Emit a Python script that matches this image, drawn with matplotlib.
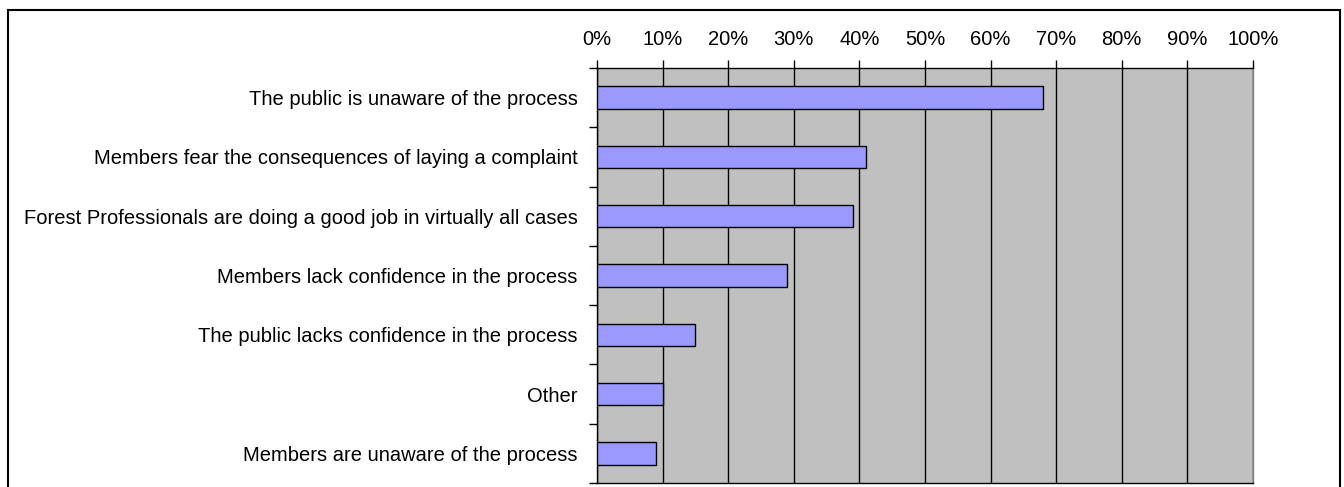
import matplotlib.pyplot as plt
from matplotlib.patches import Rectangle
from matplotlib.ticker import FixedLocator, PercentFormatter

# Data
reasons = [
    'The public is unaware of the process',
    'Members fear the consequences of laying a complaint',
    'Forest Professionals are doing a good job in virtually all cases',
    'Members lack confidence in the process',
    'The public lacks confidence in the process',
    'Other',
    'Members are unaware of the process',
]
share = [68, 41, 39, 29, 15, 10, 9]

plt.rcParams['font.family'] = ['Liberation Sans', 'DejaVu Sans']

fig = plt.figure(figsize=(13.44, 4.87), dpi=100)
ax = fig.add_axes([597 / 1344, 1 - 483 / 487, 656 / 1344, 415 / 487])

pos = list(range(len(reasons)))
ax.barh(pos, share, height=0.38, color='#9999FF', edgecolor='black', linewidth=1.0, zorder=3)

ax.set_facecolor('#C0C0C0')
ax.set_xlim(0, 100)
ax.set_ylim(len(reasons) - 0.5, -0.5)

ax.set_xticks(range(0, 101, 10))
ax.xaxis.set_major_formatter(PercentFormatter(decimals=0))
ax.xaxis.tick_top()
ax.tick_params(axis='x', direction='out', length=6, width=1, pad=8, labelsize=14.5)
ax.grid(axis='x', color='black', linewidth=1, zorder=1)

ax.set_yticks(pos)
ax.set_yticklabels(reasons)
ax.yaxis.set_minor_locator(FixedLocator([p + 0.5 for p in range(-1, len(reasons))]))
ax.tick_params(axis='y', which='major', length=0, pad=14, labelsize=14.5)
ax.tick_params(axis='y', which='minor', direction='out', length=6, width=1)

for s in ['top', 'left', 'bottom']:
    ax.spines[s].set_color('black')
    ax.spines[s].set_linewidth(1)
ax.spines['right'].set_color('#808080')
ax.spines['right'].set_linewidth(1)

# Outer chart frame
fig.patches.append(Rectangle((8 / 1344, -0.05), 1332 / 1344, 1.05 - 10 / 487,
                             transform=fig.transFigure, fill=False,
                             edgecolor='black', linewidth=1.5))

fig.savefig('out.png', dpi=100)
